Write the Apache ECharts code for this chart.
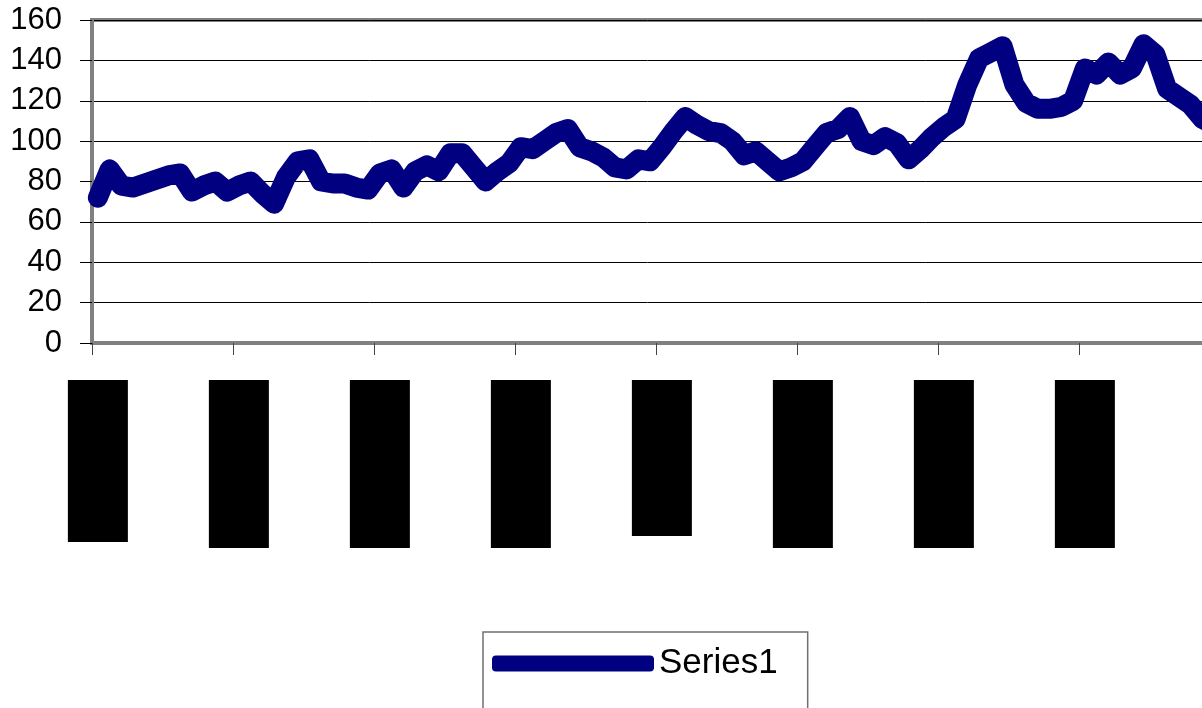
<!DOCTYPE html>
<html>
<head>
<meta charset="utf-8">
<script src="https://cdn.jsdelivr.net/npm/echarts@6/dist/echarts.min.js"></script>
<style>
html,body{margin:0;padding:0;background:#fff;}
#chart{width:1202px;height:708px;}
</style>
</head>
<body>
<div id="chart"></div>
<script>
// Tick labels (years) shown every 12 categories; months build the category list
const years = ['1996','1997','1998','1999','2000','2001','2002','2003'];
const months = ['Jan','Feb','Mar','Apr','May','Jun','Jul','Aug','Sep','Oct','Nov','Dec'];
const yTicks = [0,20,40,60,80,100,120,140,160];
const seriesName = 'Series1';
const series1 = [
  72,86,78,77,79,81,83,84,75,78,80,75,
  78,80,74,69,82,90,91,80,79,79,77,76,
  84,86,77,85,88,85,94,94,87,80,85,89,
  97,96,100,104,106,97,95,92,87,86,91,90,
  97,105,112,108,105,104,100,93,95,90,85,87,
  90,97,104,106,112,100,98,102,99,91,96,102,
  107,111,128,141,144,147,128,119,116,116,117,120,
  136,133,139,133,136,148,143,126,122,118,111,108
];

const categories = [];
years.forEach(y => months.forEach(m => categories.push(m + '-' + y)));

const blockHeights = {0: 162, 48: 156};

const chart = echarts.init(document.getElementById('chart'));
chart.setOption({
  animation: false,
  backgroundColor: '#fff',
  grid: {
    left: 92, top: 20, width: 1128, height: 323,
    outerBoundsMode: 'none',
    containLabel: false,
    show: true, borderColor: '#808080', borderWidth: 4, backgroundColor: 'transparent'
  },
  legend: {
    data: [seriesName],
    left: 483, top: 632,
    orient: 'horizontal',
    padding: [14, 30, 40, 9],
    borderColor: '#707070', borderWidth: 1.5,
    icon: 'roundRect',
    itemWidth: 162, itemHeight: 16, itemGap: 5,
    itemStyle: { color: '#000080', borderRadius: 8 },
    textStyle: { fontFamily: 'Liberation Sans', fontSize: 35, color: '#000' }
  },
  xAxis: {
    type: 'category',
    data: categories,
    boundaryGap: true,
    axisLine: { show: true, lineStyle: { color: '#808080', width: 4 } },
    axisTick: { show: true, interval: 11, length: 12, lineStyle: { color: '#444', width: 1 } },
    axisLabel: {
      interval: 11,
      margin: 37,
      formatter: function (v, idx) {
        return (idx in blockHeights ? (blockHeights[idx] === 162 ? '{a|' : '{c|') : '{b|') + v + '}';
      },
      rich: {
        a: { width: 60, height: 162, backgroundColor: '#000', color: '#000', fontSize: 10, align: 'center', verticalAlign: 'top' },
        b: { width: 60, height: 168, backgroundColor: '#000', color: '#000', fontSize: 10, align: 'center', verticalAlign: 'top' },
        c: { width: 60, height: 156, backgroundColor: '#000', color: '#000', fontSize: 10, align: 'center', verticalAlign: 'top' }
      }
    },
    splitLine: { show: false }
  },
  yAxis: {
    type: 'value',
    min: yTicks[0], max: yTicks[yTicks.length - 1], interval: 20,
    axisLine: { show: true, lineStyle: { color: '#808080', width: 4 } },
    axisTick: { show: true, length: 12, lineStyle: { color: '#000', width: 1 } },
    axisLabel: { margin: 30, fontFamily: 'Liberation Sans', fontSize: 31, color: '#000' },
    splitLine: { show: true, lineStyle: { color: '#000', width: 1 } }
  },
  series: [{
    name: seriesName,
    type: 'line',
    data: series1,
    showSymbol: false,
    symbol: 'none',
    clip: true,
    itemStyle: { color: '#000080' },
    lineStyle: { color: '#000080', width: 20, cap: 'round', join: 'round' }
  }]
});
</script>
</body>
</html>
